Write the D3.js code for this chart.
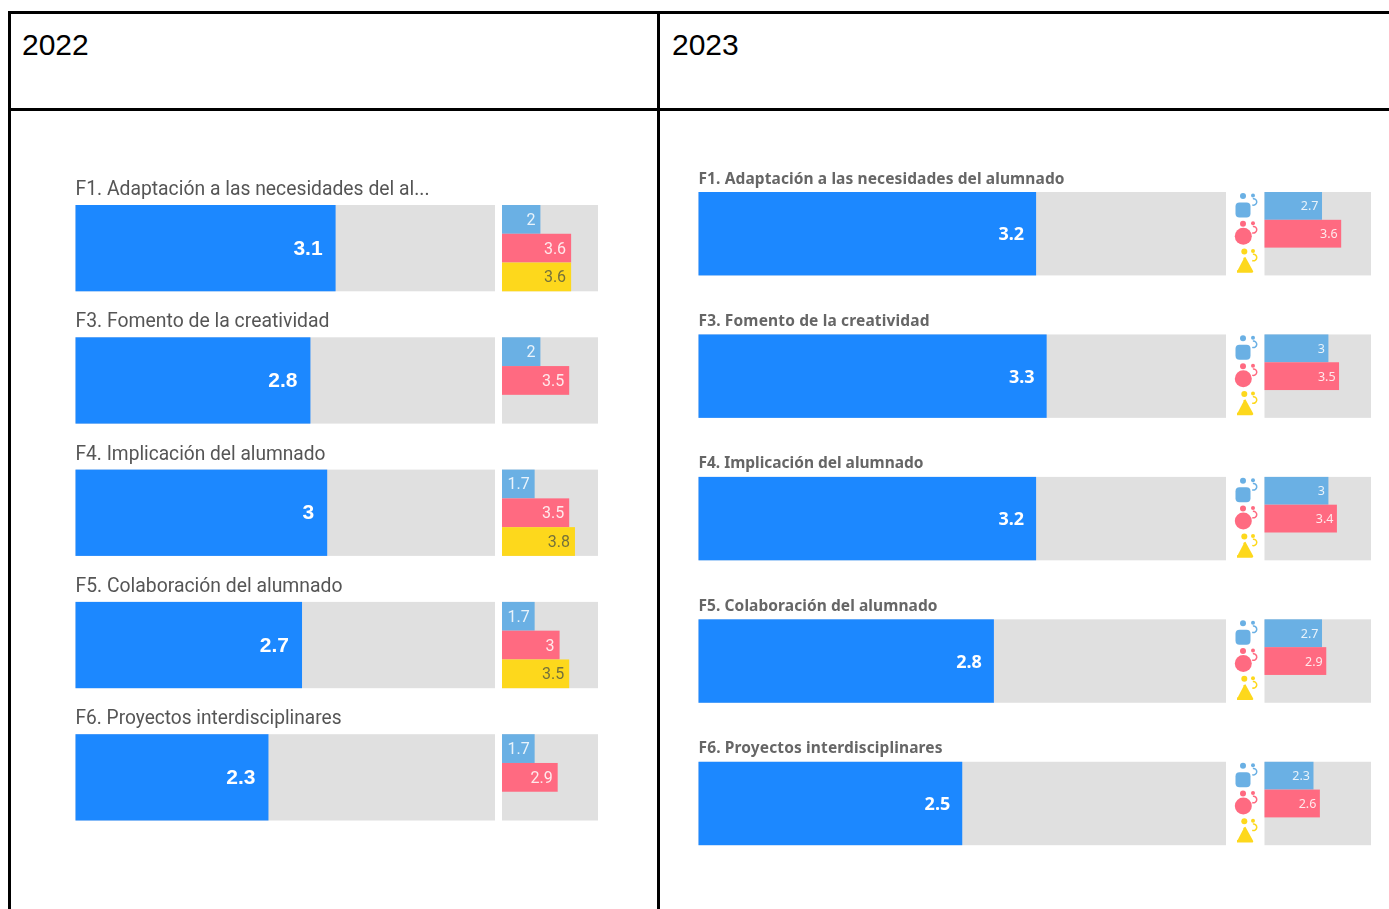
<!DOCTYPE html>
<html lang="es"><head><meta charset="utf-8">
<script src="https://cdn.jsdelivr.net/npm/d3@7/dist/d3.min.js"></script>
<style>html,body{margin:0;padding:0;background:#fff;overflow:hidden}svg{display:block}text{font-kerning:normal}</style>
</head><body><svg id="c" width="1389" height="909"></svg>
<script>
const years = ["2022","2023"];
const titles2022 = ["F1. Adaptación a las necesidades del al...","F3. Fomento de la creatividad","F4. Implicación del alumnado","F5. Colaboración del alumnado","F6. Proyectos interdisciplinares"];
const titles2023 = ["F1. Adaptación a las necesidades del alumnado","F3. Fomento de la creatividad","F4. Implicación del alumnado","F5. Colaboración del alumnado","F6. Proyectos interdisciplinares"];
const overall2022 = [3.1,2.8,3,2.7,2.3];
const blue2022 = [2,2,1.7,1.7,1.7];
const red2022 = [3.6,3.5,3.5,3,2.9];
const yellow2022 = [3.6,null,3.8,3.5,null];
const overall2023 = [3.2,3.3,3.2,2.8,2.5];
const blue2023 = [2.7,3,3,2.7,2.3];
const red2023 = [3.6,3.5,3.4,2.9,2.6];
const yellow2023 = [null,null,null,null,null];
const groupColors = ["#6ab0e4","#ff6b81","#fdd81e"];

const svg = d3.select("#c");
const soft = svg.append("defs").append("filter").attr("id","soft").attr("x","-5%").attr("y","-5%").attr("width","110%").attr("height","110%");
soft.append("feGaussianBlur").attr("stdDeviation",0.45);

// table rules
const rules = svg.append("g").attr("stroke","#000").attr("stroke-width",3);
[[9.5,11,9.5,909],[658.5,11,658.5,909],[8,12.5,1389,12.5],[8,109.5,1389,109.5]].forEach(l=>
  rules.append("line").attr("x1",l[0]).attr("y1",l[1]).attr("x2",l[2]).attr("y2",l[3]));
svg.selectAll("text.year").data(years).join("text").attr("class","year")
  .attr("x",(d,i)=>i?672:22).attr("y",55).attr("font-family","Liberation Sans").attr("font-size",30).attr("fill","#000").text(d=>d);

function panel(cfg){
  const g = svg.append("g").attr("filter","url(#soft)");
  const rows = d3.scaleBand().domain(d3.range(cfg.titles.length)).range(cfg.rowRange).paddingInner(cfg.gap).paddingOuter(0);
  const x = d3.scaleLinear().domain([0,5]).range(cfg.main);
  const xs = d3.scaleLinear().domain([0,5]).range(cfg.small);
  const sub = d3.scaleBand().domain([0,1,2]).range([0,rows.bandwidth()]);
  cfg.titles.forEach((t,i)=>{
    const r = g.append("g").attr("transform",`translate(0,${rows(i)})`);
    r.append("text").attr("x",cfg.main[0]).attr("y",cfg.titleDy).attr("font-family",cfg.titleFont).attr("font-weight",cfg.titleWeight)
      .attr("font-size",cfg.titleSize).attr("fill",cfg.titleColor).attr("textLength",cfg.titleLen(t)).attr("lengthAdjust",cfg.adjust).text(t);
    r.append("rect").attr("x",x(0)).attr("width",x(5)-x(0)).attr("height",rows.bandwidth()).attr("fill","#e0e0e0");
    r.append("rect").attr("x",x(0)).attr("width",x(cfg.overall[i])-x(0)).attr("height",rows.bandwidth()).attr("fill","#1e88ff");
    r.append("text").attr("x",x(cfg.overall[i])-cfg.mainInset).attr("y",rows.bandwidth()/2+cfg.valDy).attr("text-anchor","end")
      .attr("font-family",cfg.valFont).attr("font-weight","bold").attr("font-size",cfg.valSize).attr("fill","#fff").text(cfg.overall[i]);
    r.append("rect").attr("x",xs(0)).attr("width",xs(5)-xs(0)).attr("height",rows.bandwidth()).attr("fill","#e0e0e0");
    [cfg.blue[i],cfg.red[i],cfg.yellow[i]].forEach((v,k)=>{
      if(cfg.icons) icon(r,k,cfg.iconX,sub(k)+sub.bandwidth()/2);
      if(v==null) return;
      r.append("rect").attr("x",xs(0)).attr("y",sub(k)).attr("width",xs(v)-xs(0)).attr("height",sub.bandwidth()).attr("fill",groupColors[k]);
      r.append("text").attr("x",xs(v)-cfg.subInset).attr("y",sub(k)+sub.bandwidth()/2+cfg.subDy).attr("text-anchor","end")
        .attr("font-family",cfg.subFont).attr("font-size",cfg.subSize).attr("fill",k==2?"#75713a":"#fff").attr("fill-opacity",k==2?1:.85).text(v);
    });
  });
}
function icon(r,k,cx,cy){
  const c = groupColors[k], g = r.append("g").attr("transform",`translate(${cx},${cy})`).attr("fill",c);
  g.append("circle").attr("cx",k==2?-0.7:-2).attr("cy",-10).attr("r",3);
  if(k==0) g.append("rect").attr("x",-9.5).attr("y",-3.5).attr("width",15).attr("height",15).attr("rx",4);
  if(k==1) g.append("circle").attr("cx",-1.7).attr("cy",2.5).attr("r",8.5);
  if(k==2) g.append("path").attr("d",d3.line()([[-0.7,-4],[7,10],[-8,10]])).attr("stroke",c).attr("stroke-width",2.5).attr("stroke-linejoin","round");
  g.append("circle").attr("cx",8).attr("cy",-10.5).attr("r",2);
  g.append("path").attr("d",d3.arc()({innerRadius:2.5,outerRadius:4,startAngle:-0.2,endAngle:Math.PI+0.4})).attr("transform","translate(8.5,-4)");
}
panel({titles:titles2022,overall:overall2022,blue:blue2022,red:red2022,yellow:yellow2022,
  main:[75.5,495],small:[502,598],rowRange:[205,820.5],gap:46/132.3,
  titleDy:-10,titleFont:"Roboto",titleWeight:"normal",titleSize:20,titleColor:"#555",adjust:"spacingAndGlyphs",
  titleLen:t=>({ "F1":354,"F3":254,"F4":250,"F5":267,"F6":266 })[t.slice(0,2)],
  mainInset:13,valFont:"Liberation Sans",valSize:21,valDy:6.7,subFont:"Roboto",subSize:16,subInset:5,subDy:5.5,icons:false});
panel({titles:titles2023,overall:overall2023,blue:blue2023,red:red2023,yellow:yellow2023,
  main:[698.5,1226],small:[1264.5,1371],rowRange:[192,845.2],gap:59/142.4,
  titleDy:-8.5,titleFont:"Noto Sans",titleWeight:"bold",titleSize:15.5,titleColor:"#666",adjust:"spacing",
  titleLen:t=>({ "F1":366,"F3":231,"F4":225,"F5":239,"F6":244 })[t.slice(0,2)],
  mainInset:12,valFont:"Noto Sans",valSize:18,valDy:6.6,subFont:"Noto Sans",subSize:12.5,subInset:3.5,subDy:4.5,icons:true,iconX:1245});
</script></body></html>
